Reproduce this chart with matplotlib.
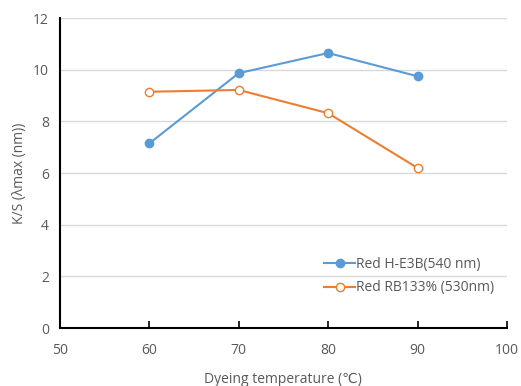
import matplotlib
matplotlib.use("Agg")
import matplotlib.pyplot as plt

plt.rcParams["font.family"] = ["Open Sans", "DejaVu Sans"]

temps = [60, 70, 80, 90]
red_he3b = [7.15, 9.87, 10.65, 9.75]
red_rb133 = [9.15, 9.22, 8.32, 6.2]

fig = plt.figure(figsize=(5.21, 3.86), dpi=100)
ax = fig.add_axes([0.115, 0.150, 0.858, 0.803])

ax.plot(temps, red_he3b, color="#5B9BD5", lw=1.5, marker="o", ms=6,
        label="Red H-E3B(540 nm)")
ax.plot(temps, red_rb133, color="#ED7D31", lw=1.5, marker="o", ms=6,
        mfc="white", mec="#ED7D31", mew=1.0, label="Red RB133% (530nm)")

ax.set_xlim(50, 100)
ax.set_ylim(0, 12)
ax.set_xticks([50, 60, 70, 80, 90, 100])
ax.set_yticks(range(0, 13, 2))
ax.yaxis.grid(True, color="#D9D9D9", lw=1)
ax.set_axisbelow(True)

for s in ["top", "right"]:
    ax.spines[s].set_visible(False)
ax.spines["left"].set_linewidth(1.5)
ax.spines["bottom"].set_linewidth(1.5)
ax.tick_params(axis="y", length=0, labelsize=10, colors="#595959", pad=8)
ax.tick_params(axis="x", direction="in", length=5, width=1.2, labelsize=10,
               labelcolor="#595959", pad=11)

ax.set_xlabel("Dyeing temperature (\u2103)", fontsize=10, color="#595959", labelpad=10)
ax.set_ylabel("K/S (\u03bbmax (nm))", fontsize=10, color="#595959")

ax.legend(loc="lower right", bbox_to_anchor=(1.0, 0.065), frameon=False,
          fontsize=10, labelcolor="#595959", handlelength=2.2, handletextpad=0.1,
          labelspacing=0.6)

fig.savefig("out.png", dpi=100)
